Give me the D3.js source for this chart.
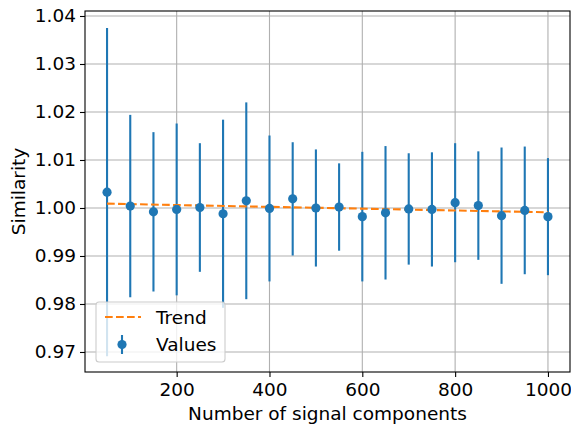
<!DOCTYPE html>
<html><head><meta charset="utf-8">
<script src="https://cdn.jsdelivr.net/npm/d3@7"></script>
<style>body{margin:0;background:#fff}svg{display:block;font-family:"DejaVu Sans",sans-serif}</style>
</head><body><svg id="c" width="571" height="428"></svg>
<script>
const components = [50,100,150,200,250,300,350,400,450,500,550,600,650,700,750,800,850,900,950,1000];
const similarity = [1.0033,1.0004,0.9992,0.9997,1.0001,0.9988,1.0015,0.9999,1.0019,1.0000,1.0002,0.9982,0.9990,0.9998,0.9997,1.0011,1.0005,0.9984,0.9995,0.9982];
const errors = [0.0342,0.0190,0.0166,0.0179,0.0134,0.0196,0.0205,0.0152,0.0118,0.0122,0.0091,0.0135,0.0139,0.0116,0.0119,0.0124,0.0113,0.0142,0.0133,0.0122];
const trendX = [50,1000];
const trendY = [1.0009,0.9991];
const xTicks = [200,400,600,800,1000];
const yTicks = [0.97,0.98,0.99,1.00,1.01,1.02,1.03,1.04];

const FS = 18.5;
const svg = d3.select("#c");
const L=85,R=570,T=11,B=372;
const x = d3.scaleLinear().domain([2.5,1047.5]).range([L,R]);
const y = d3.scaleLinear().domain([0.96583,1.04104]).range([B,T]);
const blue="#1f77b4", orange="#ff7f0e";

// grid
const g = svg.append("g");
g.selectAll(".gx").data(xTicks).join("line").attr("x1",d=>x(d)).attr("x2",d=>x(d)).attr("y1",T).attr("y2",B).attr("stroke","#b0b0b0").attr("stroke-width",1.1);
g.selectAll(".gy").data(yTicks).join("line").attr("y1",d=>y(d)).attr("y2",d=>y(d)).attr("x1",L).attr("x2",R).attr("stroke","#b0b0b0").attr("stroke-width",1.1);

// error bars
svg.append("g").selectAll("line").data(components).join("line")
 .attr("x1",d=>x(d)).attr("x2",d=>x(d))
 .attr("y1",(d,i)=>y(similarity[i]-errors[i])).attr("y2",(d,i)=>y(similarity[i]+errors[i]))
 .attr("stroke",blue).attr("stroke-width",2.1);
// trend
svg.append("path").datum(trendX.map((d,i)=>[d,trendY[i]]))
 .attr("d",d3.line().x(d=>x(d[0])).y(d=>y(d[1])))
 .attr("fill","none").attr("stroke",orange).attr("stroke-width",2.1).attr("stroke-dasharray","7.7,3.3");
// markers
svg.append("g").selectAll("circle").data(components).join("circle")
 .attr("cx",d=>x(d)).attr("cy",(d,i)=>y(similarity[i])).attr("r",4.6).attr("fill",blue);

// axes
const xa = svg.append("g").attr("transform",`translate(0,${B})`).call(d3.axisBottom(x).tickValues(xTicks).tickSize(5).tickPadding(6).tickFormat(d3.format("d")));
const ya = svg.append("g").attr("transform",`translate(${L},0)`).call(d3.axisLeft(y).tickValues(yTicks).tickSize(5).tickPadding(4).tickFormat(d3.format(".2f")));
[xa,ya].forEach(a=>{a.attr("font-size",FS).attr("font-family","DejaVu Sans");a.select(".domain").remove();a.selectAll("text").attr("fill","#000");a.selectAll("line").attr("stroke","#000").attr("stroke-width",1.1);});
svg.append("rect").attr("x",L).attr("y",T).attr("width",R-L).attr("height",B-T).attr("fill","none").attr("stroke","#000").attr("stroke-width",1.1);

// labels
svg.append("text").attr("x",(L+R)/2).attr("y",420).attr("text-anchor","middle").attr("font-size",FS).text("Number of signal components");
svg.append("text").attr("transform",`translate(25,${(T+B)/2}) rotate(-90)`).attr("text-anchor","middle").attr("font-size",FS).text("Similarity");

// legend
const lg = svg.append("g");
lg.append("rect").attr("x",96).attr("y",302).attr("width",129).attr("height",60).attr("rx",3).attr("fill","#fff").attr("fill-opacity",0.8).attr("stroke","#cccccc").attr("stroke-width",1.1);
lg.append("line").attr("x1",105).attr("x2",141).attr("y1",317).attr("y2",317).attr("stroke",orange).attr("stroke-width",2.1).attr("stroke-dasharray","7.7,3.3");
lg.append("line").attr("x1",122).attr("x2",122).attr("y1",335).attr("y2",354).attr("stroke",blue).attr("stroke-width",2.1);
lg.append("circle").attr("cx",122).attr("cy",344.5).attr("r",4.6).attr("fill",blue);
lg.append("text").attr("x",156).attr("y",323.5).attr("font-size",FS).text("Trend");
lg.append("text").attr("x",156).attr("y",350.5).attr("font-size",FS).text("Values");
</script></body></html>
